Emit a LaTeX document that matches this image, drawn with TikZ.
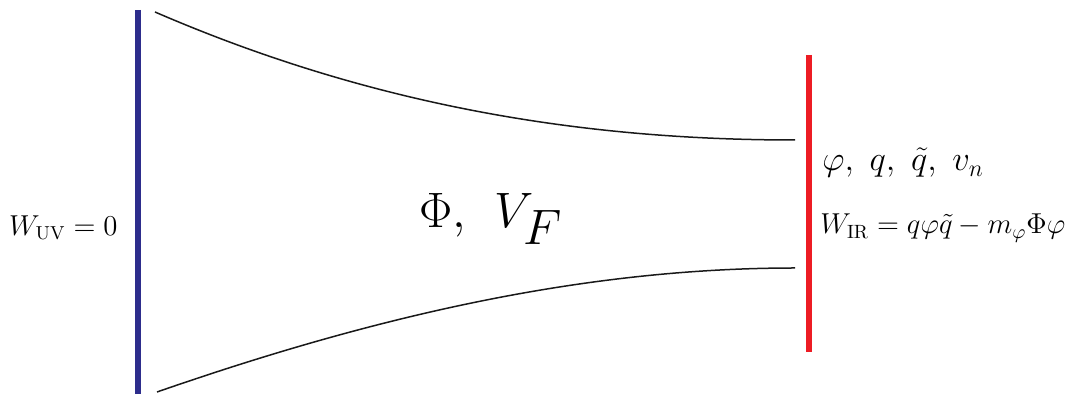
\documentclass[tikz,border=0pt]{standalone}
\usepackage{amsmath}
\definecolor{uvblue}{RGB}{45,45,140}
\definecolor{irred}{RGB}{237,28,36}
\begin{document}
\begin{tikzpicture}[x=0.5pt,y=-0.5pt,
  brane/.style={line width=3.3pt},
  wall/.style={line width=0.75pt,black!90}]
\useasboundingbox (0,0) rectangle (1073,394);
\coordinate (uvtop) at (138,10);
\coordinate (uvbot) at (138,394);
\coordinate (irtop) at (809,55);
\coordinate (irbot) at (809,352);
\draw[brane,uvblue] (uvtop) -- (uvbot);
\draw[brane,irred] (irtop) -- (irbot);
\coordinate (ts) at (155,12);
\coordinate (te) at (795,140);
\coordinate (bs) at (157,392);
\coordinate (be) at (795,268);
\draw[wall] (ts) .. controls (370,105) and (580,140) .. (te);
\draw[wall] (bs) .. controls (370,318) and (580,268) .. (be);
\node[anchor=east,inner sep=0pt] (wuv) at (118,228) {\fontsize{13.4}{16}\selectfont $W_{\text{UV}}=0$};
\node[anchor=base west,inner sep=0pt] (bulk) at (419,228) {\fontsize{34}{40}\selectfont $\Phi,\ V_F$};
\node[anchor=west,inner sep=0pt] (fields) at (822,163) {\fontsize{16.5}{20}\selectfont $\varphi,\ q,\ \tilde q,\ v_n$};
\node[anchor=west,inner sep=0pt] (wir) at (820,228) {\fontsize{13.7}{16}\selectfont $W_{\text{IR}}=q\varphi\tilde q-m_\varphi\Phi\varphi$};
\end{tikzpicture}
\end{document}
